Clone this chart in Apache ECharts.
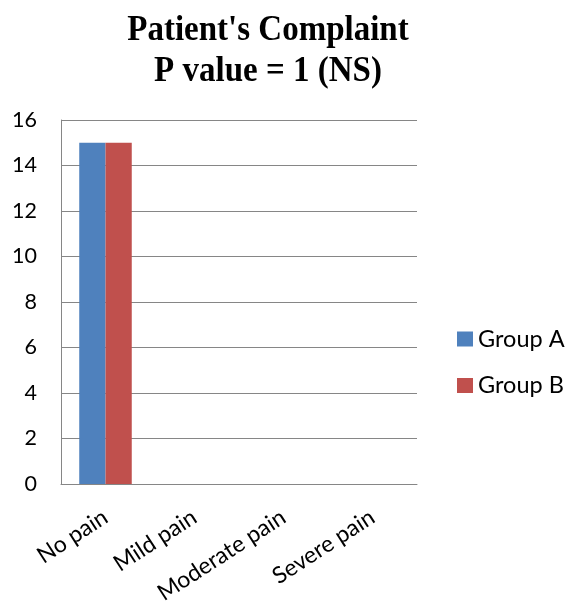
<!DOCTYPE html>
<html>
<head>
<meta charset="utf-8">
<script src="https://cdn.jsdelivr.net/npm/echarts@6/dist/echarts.min.js"></script>
<style>
  html, body { margin: 0; padding: 0; background: #fff; }
  #chart { width: 567px; height: 611px; }
</style>
</head>
<body>
<div id="chart"></div>
<script>
// Pain categories and counts per group
const categories = ['No pain', 'Mild pain', 'Moderate pain', 'Severe pain'];
const groupA = [15, 0, 0, 0];
const groupB = [15, 0, 0, 0];
const seriesNames = ['Group A', 'Group B'];
const titleLines = ["Patient's Complaint", 'P value = 1 (NS)'];

const chart = echarts.init(document.getElementById('chart'), null, { renderer: 'canvas' });

const labelFont = 'Lato, "Open Sans", sans-serif';
const titleFont = 'bold 33px "Liberation Serif", "DejaVu Serif", serif';

// Two-line bold serif heading, slightly tall
const titleGraphics = titleLines.map((line, i) => ({
  type: 'text',
  x: 268,
  y: 31 + i * 40.5,
  scaleY: 1.1,
  style: {
    text: line,
    font: titleFont,
    fill: '#000',
    align: 'center',
    verticalAlign: 'middle'
  }
}));

chart.setOption({
  animation: false,
  backgroundColor: '#ffffff',
  graphic: titleGraphics,
  legend: {
    orient: 'vertical',
    left: 457,
    top: 327,
    padding: 0,
    itemWidth: 16,
    itemHeight: 15,
    itemGap: 22.5,
    icon: 'rect',
    textStyle: { fontFamily: labelFont, fontSize: 23.5, lineHeight: 24, color: '#000' },
    data: seriesNames
  },
  grid: { left: 61, right: 150, top: 120, bottom: 127, containLabel: false },
  xAxis: {
    type: 'category',
    data: categories,
    axisLine: { show: true, lineStyle: { color: '#868686', width: 1 } },
    axisTick: { show: false },
    axisLabel: {
      rotate: 33,
      interval: 0,
      margin: 31,
      fontFamily: labelFont,
      fontSize: 23,
      color: '#000'
    }
  },
  yAxis: {
    type: 'value',
    min: 0,
    max: 16,
    interval: 2,
    axisLine: { show: true, lineStyle: { color: '#868686', width: 1 } },
    axisTick: { show: false },
    splitLine: { show: true, lineStyle: { color: '#868686', width: 1 } },
    axisLabel: {
      margin: 24,
      fontFamily: labelFont,
      fontSize: 21.5,
      color: '#000'
    }
  },
  series: [
    {
      name: seriesNames[0],
      type: 'bar',
      data: groupA,
      barGap: '0%',
      barCategoryGap: '41%',
      itemStyle: { color: '#4f81bd' }
    },
    {
      name: seriesNames[1],
      type: 'bar',
      data: groupB,
      itemStyle: { color: '#c0504d' }
    }
  ]
});
</script>
</body>
</html>
